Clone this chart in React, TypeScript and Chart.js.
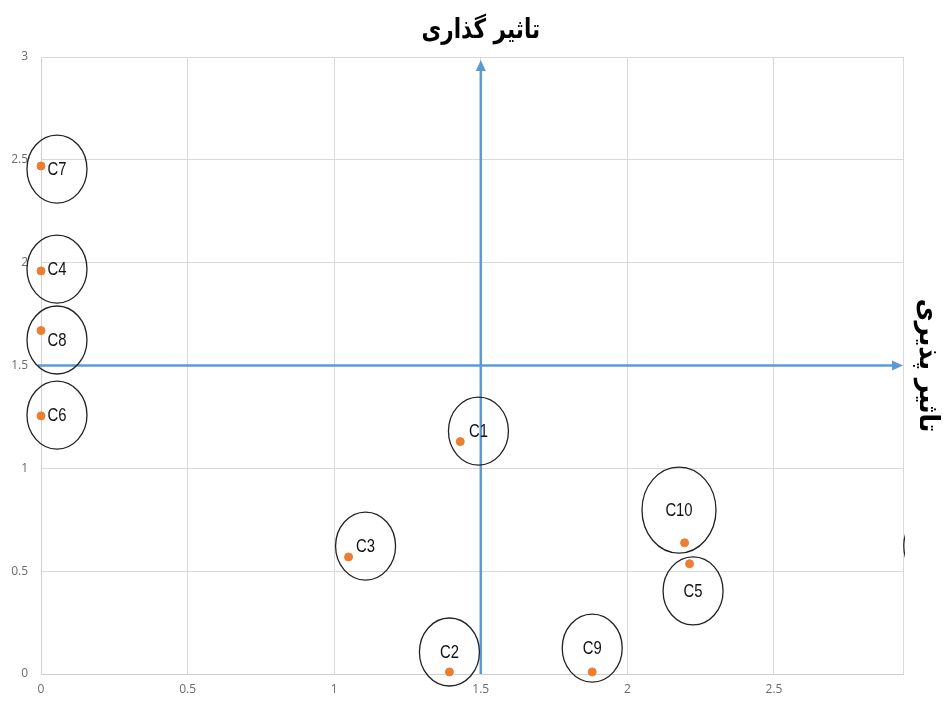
import React, { useEffect, useRef } from "react";
import { Chart, registerables } from "chart.js";

Chart.register(...registerables);

// Data
const labels = ["C1", "C2", "C3", "C4", "C5", "C6", "C7", "C8", "C9", "C10"];
const xValues = [1.43, 1.393, 1.049, 0, 2.212, 0, 0, 0, 1.88, 2.195];
const yValues = [1.13, 0.01, 0.569, 1.96, 0.536, 1.255, 2.47, 1.67, 0.01, 0.638];
// label (circle) anchor positions in data units
const labelX = [1.492, 1.393, 1.107, 0.0545, 2.224, 0.0545, 0.0545, 0.0545, 1.88, 2.176];
const labelY = [1.181, 0.107, 0.622, 1.969, 0.404, 1.259, 2.455, 1.624, 0.126, 0.797];
// a clipped circle partly visible at the right edge
const extraCircleX = [3.045];
const extraCircleY = [0.622];

const xTicks = [0, 0.5, 1, 1.5, 2, 2.5];
const yTicks = [0, 0.5, 1, 1.5, 2, 2.5, 3];
const X_MAX = 2.94;
const Y_MAX = 3;
const AXIS_CROSS = 1.5;

const topTitle = "تاثیر گذاری";
const rightTitle = "تاثیر پذیری";

const BLUE = "#5B9BD5";
const ORANGE = "#ED7D31";

const overlayPlugin = {
  id: "overlay",
  beforeDatasetsDraw(chart: any) {
    const { ctx, chartArea, scales } = chart;
    const xs = scales.x;
    const ys = scales.y;
    ctx.save();
    // blue axes
    ctx.strokeStyle = BLUE;
    ctx.fillStyle = BLUE;
    ctx.lineWidth = 2.5;
    const vx = xs.getPixelForValue(AXIS_CROSS);
    const vTop = ys.getPixelForValue(Y_MAX) + 3;
    const vBot = ys.getPixelForValue(0);
    ctx.beginPath();
    ctx.moveTo(vx, vBot);
    ctx.lineTo(vx, vTop + 9);
    ctx.stroke();
    ctx.beginPath();
    ctx.moveTo(vx, vTop);
    ctx.lineTo(vx - 5, vTop + 11);
    ctx.lineTo(vx + 5, vTop + 11);
    ctx.closePath();
    ctx.fill();

    const hy = ys.getPixelForValue(AXIS_CROSS);
    const hL = xs.getPixelForValue(0) - 3;
    const hR = xs.getPixelForValue(X_MAX);
    ctx.beginPath();
    ctx.moveTo(hL, hy);
    ctx.lineTo(hR - 9, hy);
    ctx.stroke();
    ctx.beginPath();
    ctx.moveTo(hR, hy);
    ctx.lineTo(hR - 11, hy - 5);
    ctx.lineTo(hR - 11, hy + 5);
    ctx.closePath();
    ctx.fill();

    // circles and labels
    ctx.beginPath();
    ctx.rect(0, 0, chartArea.right + 2, chart.height);
    ctx.clip();
    ctx.strokeStyle = "#222";
    ctx.lineWidth = 1.3;
    const drawEllipse = (cx: number, cy: number, rx: number, ry: number) => {
      ctx.beginPath();
      ctx.ellipse(cx, cy, rx, ry, 0, 0, Math.PI * 2);
      ctx.stroke();
    };
    labels.forEach((lab, i) => {
      const cx = xs.getPixelForValue(labelX[i]);
      const cy = ys.getPixelForValue(labelY[i]);
      const big = lab === "C10";
      drawEllipse(cx, cy, big ? 37 : 30, big ? 43 : 34);
      ctx.save();
      ctx.fillStyle = "#111";
      ctx.font = "19px 'Liberation Sans', sans-serif";
      ctx.textAlign = "center";
      ctx.textBaseline = "middle";
      ctx.translate(cx, cy + 1);
      ctx.scale(0.78, 1);
      ctx.fillText(lab, 0, 0);
      ctx.restore();
    });
    extraCircleX.forEach((v, i) => {
      drawEllipse(xs.getPixelForValue(v), ys.getPixelForValue(extraCircleY[i]), 30, 34);
    });
    ctx.restore();
  },
  afterDraw(chart: any) {
    const { ctx, scales } = chart;
    const xs = scales.x;
    const ys = scales.y;
    ctx.save();
    ctx.fillStyle = "#000";
    ctx.font = "bold 27px 'DejaVu Sans', sans-serif";
    ctx.textAlign = "center";
    ctx.textBaseline = "middle";
    ctx.direction = "rtl";
    ctx.save();
    ctx.translate(xs.getPixelForValue(AXIS_CROSS), 31);
    ctx.scale(0.8, 1);
    ctx.fillText(topTitle, 0, 0);
    ctx.restore();
    ctx.translate(927, ys.getPixelForValue(AXIS_CROSS));
    ctx.rotate(Math.PI / 2);
    ctx.scale(0.92, 1);
    ctx.fillText(rightTitle, 0, 0);
    ctx.restore();
  },
};

export default function App() {
  const ref = useRef<HTMLCanvasElement>(null);
  useEffect(() => {
    document.body.style.margin = "0";
    const points = labels.map((_, i) => ({ x: xValues[i], y: yValues[i] }));
    const chart = new Chart(ref.current!, {
      type: "scatter",
      data: {
        datasets: [
          {
            label: "points",
            data: points,
            backgroundColor: ORANGE,
            borderColor: ORANGE,
            pointRadius: 4,
            pointHoverRadius: 4,
            clip: false,
          },
        ],
      },
      options: {
        animation: false,
        responsive: false,
        devicePixelRatio: 1,
        layout: { padding: { top: 57, right: 40, left: 0, bottom: 0 } },
        plugins: { legend: { display: false }, tooltip: { enabled: false } },
        scales: {
          x: {
            type: "linear",
            min: 0,
            max: X_MAX,
            afterBuildTicks: (scale: any) => {
              scale.ticks = [...xTicks, X_MAX].map((v) => ({ value: v }));
            },
            afterFit: (scale: any) => {
              scale.height = 33;
            },
            ticks: {
              padding: 8,
              color: "#6b6b6b",
              font: { family: "'Open Sans', sans-serif", size: 12 },
              maxRotation: 0,
              autoSkip: false,
              callback: (v: any) => (xTicks.includes(Number(v)) ? String(v) : ""),
            },
            grid: { color: "#d9d9d9", drawTicks: false, lineWidth: 1 },
            border: { color: "#d0d0d0" },
          },
          y: {
            type: "linear",
            min: 0,
            max: Y_MAX,
            afterBuildTicks: (scale: any) => {
              scale.ticks = yTicks.map((v) => ({ value: v }));
            },
            afterFit: (scale: any) => {
              scale.width = 41;
            },
            ticks: {
              padding: 13,
              color: "#6b6b6b",
              font: { family: "'Open Sans', sans-serif", size: 12 },
              callback: (v: any) => String(v),
            },
            grid: { color: "#d9d9d9", drawTicks: false, lineWidth: 1 },
            border: { color: "#d0d0d0" },
          },
        },
      },
      plugins: [overlayPlugin],
    });
    return () => chart.destroy();
  }, []);
  return (
    <div style={{ position: "absolute", left: 0, top: 0, width: 943, height: 707, background: "#fff" }}>
      <canvas ref={ref} width={943} height={707} />
    </div>
  );
}
